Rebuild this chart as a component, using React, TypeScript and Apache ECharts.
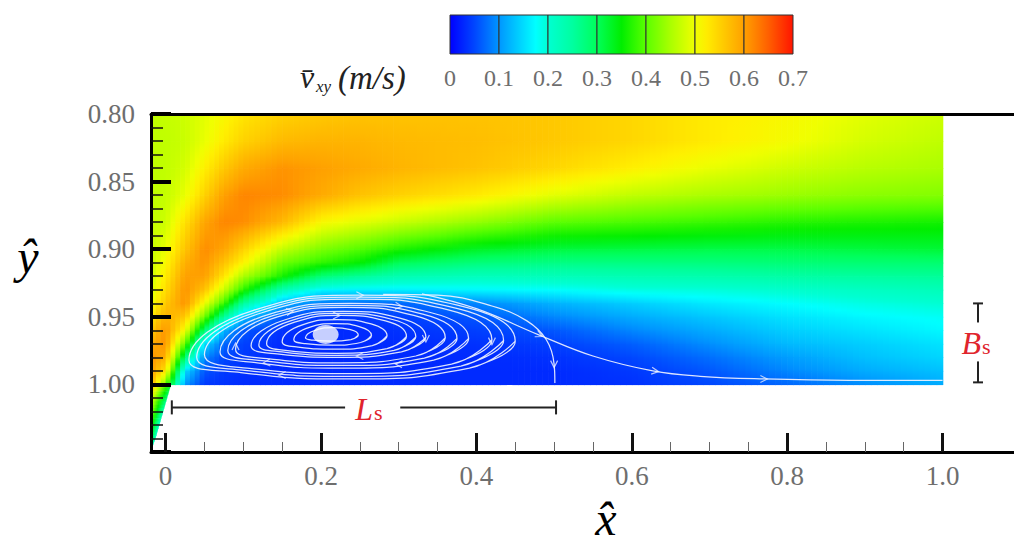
import React, { useEffect, useRef } from "react";
import * as echarts from "echarts";

const SERIF = '"Liberation Serif", "Times New Roman", serif';

// ---------- axes ----------
const X_MIN = -0.0188;
const X_MAX = 1.0919;
const Y_MIN = 0.8;
const Y_MAX = 1.05;
const xMajor = [0, 0.2, 0.4, 0.6, 0.8, 1.0];
const xMinor = [0.05, 0.1, 0.15, 0.25, 0.3, 0.35, 0.45, 0.5, 0.55, 0.65, 0.7, 0.75, 0.85, 0.9, 0.95];

// ---------- colour map ----------
const cmapValues = [0, 0.05, 0.1, 0.15, 0.175, 0.2, 0.25, 0.3, 0.35, 0.4, 0.45, 0.5, 0.52, 0.56, 0.6, 0.65, 0.7];
const cmapColors = [
  [0, 0, 255], [0, 70, 255], [0, 150, 255], [0, 220, 255], [0, 255, 255], [0, 255, 210],
  [0, 255, 160], [0, 255, 90], [0, 238, 0], [90, 255, 0], [170, 255, 0], [240, 255, 0],
  [255, 240, 0], [255, 200, 0], [255, 160, 0], [255, 95, 0], [255, 20, 0],
];
const colorbarLevels = [0, 0.1, 0.2, 0.3, 0.4, 0.5, 0.6, 0.7];

// ---------- velocity field (nodes) ----------
const xNodes = [X_MIN, 0, 0.025, 0.05, 0.075, 0.1, 0.15, 0.2, 0.25, 0.3, 0.4, 0.5, 0.6, 0.7, 0.8, 0.9, 1.0];
const yNodes = [0.8, 0.82, 0.84, 0.86, 0.88, 0.9, 0.91, 0.92, 0.93, 0.94, 0.95, 0.96, 0.97, 0.98, 0.99, 1.0];
const v080 = [0.465, 0.468, 0.475, 0.49, 0.51, 0.53, 0.55, 0.56, 0.565, 0.565, 0.565, 0.56, 0.545, 0.525, 0.51, 0.49, 0.475];
const v082 = [0.465, 0.466, 0.472, 0.495, 0.525, 0.55, 0.575, 0.58, 0.58, 0.575, 0.57, 0.56, 0.545, 0.525, 0.505, 0.48, 0.465];
const v084 = [0.465, 0.466, 0.48, 0.52, 0.56, 0.59, 0.61, 0.6, 0.59, 0.58, 0.565, 0.545, 0.52, 0.495, 0.475, 0.46, 0.45];
const v086 = [0.465, 0.468, 0.495, 0.55, 0.6, 0.62, 0.615, 0.59, 0.565, 0.55, 0.525, 0.49, 0.465, 0.45, 0.44, 0.43, 0.425];
const v088 = [0.468, 0.475, 0.535, 0.595, 0.62, 0.615, 0.575, 0.51, 0.49, 0.47, 0.435, 0.4, 0.39, 0.38, 0.37, 0.365, 0.36];
const v090 = [0.47, 0.495, 0.565, 0.615, 0.595, 0.55, 0.465, 0.42, 0.395, 0.365, 0.33, 0.315, 0.313, 0.31, 0.31, 0.315, 0.32];
const v091 = [0.472, 0.51, 0.585, 0.61, 0.565, 0.515, 0.41, 0.375, 0.35, 0.3, 0.277, 0.27, 0.272, 0.275, 0.28, 0.283, 0.285];
const v092 = [0.475, 0.525, 0.6, 0.6, 0.53, 0.45, 0.36, 0.28, 0.255, 0.232, 0.221, 0.224, 0.231, 0.237, 0.245, 0.25, 0.255];
const v093 = [0.485, 0.54, 0.61, 0.565, 0.47, 0.37, 0.23, 0.17, 0.165, 0.165, 0.17, 0.175, 0.19, 0.195, 0.205, 0.215, 0.225];
const v094 = [0.5, 0.56, 0.61, 0.5, 0.38, 0.25, 0.12, 0.08, 0.07, 0.07, 0.09, 0.12, 0.14, 0.16, 0.175, 0.19, 0.2];
const v095 = [0.53, 0.585, 0.56, 0.41, 0.25, 0.13, 0.06, 0.04, 0.04, 0.045, 0.06, 0.09, 0.115, 0.135, 0.155, 0.17, 0.18];
const v096 = [0.56, 0.61, 0.5, 0.28, 0.12, 0.06, 0.035, 0.03, 0.03, 0.035, 0.045, 0.06, 0.09, 0.115, 0.14, 0.155, 0.17];
const v097 = [0.59, 0.61, 0.4, 0.15, 0.07, 0.045, 0.03, 0.03, 0.03, 0.03, 0.035, 0.045, 0.065, 0.095, 0.125, 0.14, 0.155];
const v098 = [0.61, 0.585, 0.28, 0.09, 0.05, 0.04, 0.03, 0.03, 0.03, 0.03, 0.03, 0.035, 0.05, 0.075, 0.105, 0.13, 0.145];
const v099 = [0.6, 0.53, 0.15, 0.06, 0.04, 0.035, 0.03, 0.03, 0.03, 0.03, 0.03, 0.03, 0.04, 0.06, 0.09, 0.115, 0.13];
const v100 = [0.58, 0.4, 0.1, 0.04, 0.035, 0.03, 0.03, 0.03, 0.03, 0.03, 0.03, 0.03, 0.035, 0.05, 0.07, 0.095, 0.115];
const fieldRows = [v080, v082, v084, v086, v088, v090, v091, v092, v093, v094, v095, v096, v097, v098, v099, v100];

// wall-jet sliver below y = 1.00
const wedgeY = [1.0, 1.01, 1.02, 1.03, 1.04, 1.049];
const wedgeEdgeX = [0.007, 0.002, -0.003, -0.008, -0.013, -0.0188];
const wedgeLeftV = [0.58, 0.5, 0.44, 0.38, 0.33, 0.3];
const wedgeRightV = [0.33, 0.27, 0.23, 0.21, 0.2, 0.2];

// ---------- streamlines ----------
const loop9 = [[0.45, 0.968], [0.391, 0.988], [0.24, 0.996], [0.093, 0.991], [0.03, 0.982], [0.114, 0.945], [0.25, 0.934], [0.387, 0.943]];
const loop8b = [[0.435, 0.9675], [0.38, 0.9865], [0.238, 0.994], [0.099, 0.9895], [0.04, 0.98], [0.119, 0.946], [0.247, 0.9355], [0.376, 0.944]];
const loop8 = [[0.42, 0.967], [0.368, 0.985], [0.235, 0.992], [0.105, 0.988], [0.05, 0.978], [0.124, 0.947], [0.244, 0.937], [0.365, 0.945]];
const loop7 = [[0.39, 0.966], [0.345, 0.982], [0.23, 0.988], [0.118, 0.984], [0.07, 0.976], [0.134, 0.948], [0.238, 0.94], [0.342, 0.947]];
const loop6b = [[0.375, 0.966], [0.333, 0.9805], [0.2275, 0.986], [0.124, 0.9825], [0.08, 0.975], [0.139, 0.949], [0.235, 0.9415], [0.331, 0.948]];
const loop6 = [[0.36, 0.9655], [0.322, 0.979], [0.225, 0.984], [0.1305, 0.981], [0.09, 0.974], [0.144, 0.95], [0.232, 0.943], [0.3195, 0.949]];
const loop5 = [[0.335, 0.965], [0.3035, 0.976], [0.2225, 0.98], [0.1435, 0.9775], [0.11, 0.9715], [0.155, 0.952], [0.228, 0.946], [0.3015, 0.951]];
const loop4b = [[0.322, 0.9648], [0.294, 0.9748], [0.221, 0.9785], [0.15, 0.976], [0.12, 0.9708], [0.1605, 0.953], [0.226, 0.9475], [0.292, 0.952]];
const loop4 = [[0.31, 0.9645], [0.285, 0.9735], [0.22, 0.977], [0.157, 0.975], [0.13, 0.97], [0.166, 0.954], [0.2245, 0.949], [0.283, 0.953]];
const loop3 = [[0.285, 0.964], [0.266, 0.9713], [0.2175, 0.974], [0.1705, 0.9724], [0.15, 0.9685], [0.177, 0.9558], [0.221, 0.952], [0.2645, 0.9553]];
const loop2 = [[0.265, 0.9638], [0.251, 0.969], [0.215, 0.971], [0.18, 0.9698], [0.165, 0.967], [0.185, 0.9578], [0.2175, 0.955], [0.25, 0.9574]];
const loop1 = [[0.248, 0.9635], [0.2385, 0.9668], [0.214, 0.968], [0.19, 0.9673], [0.18, 0.9655], [0.1936, 0.9598], [0.2157, 0.958], [0.238, 0.9595]];
const loops = [loop1, loop2, loop3, loop4, loop4b, loop5, loop6, loop6b, loop7, loop8, loop8b, loop9];
const stream1 = [[0.28, 0.9335], [0.35, 0.934], [0.42, 0.942], [0.465, 0.953], [0.49, 0.967], [0.5, 0.985], [0.501, 0.999]];
const stream2 = [[0.33, 0.933], [0.4, 0.944], [0.481, 0.9635], [0.55, 0.979], [0.627, 0.99], [0.688, 0.994], [0.77, 0.996], [0.88, 0.997], [1.0, 0.997]];
// arrow heads: x, y, screen angle (deg)
const arrowHeads = [
  [0.25, 0.934, 0], [0.15, 0.993, 180], [0.3, 0.942, -6], [0.3, 0.985, 176], [0.25, 0.979, 180],
  [0.335, 0.966, -90], [0.42, 0.968, -90], [0.09, 0.972, 90], [0.22, 0.949, 0], [0.16, 0.946, 10],
  [0.5, 0.985, -90], [0.481, 0.9635, -25], [0.63, 0.9902, -8], [0.77, 0.996, 0], [0.13, 0.984, 185],
];
const vortexCore = [[0.206, 0.963]];

// ---------- annotations ----------
const annotSegments = [
  [0.008, 1.017, 0.231, 1.017], [0.302, 1.017, 0.5025, 1.017],
  [0.008, 1.0118, 0.008, 1.0222], [0.5025, 1.0118, 0.5025, 1.0222],
  [1.0456, 0.9401, 1.0456, 0.9542], [1.0456, 0.983, 1.0456, 0.9985],
  [1.0392, 0.9401, 1.052, 0.9401], [1.0392, 0.9985, 1.052, 0.9985],
];
const lsLabel = [0.2656, 1.017];
const bsLabel = [1.0456, 0.969];

function cmap(v: number): string {
  const n = cmapValues.length;
  if (v <= cmapValues[0]) return `rgb(${cmapColors[0].join(",")})`;
  if (v >= cmapValues[n - 1]) return `rgb(${cmapColors[n - 1].join(",")})`;
  let i = 0;
  while (i < n - 2 && v > cmapValues[i + 1]) i++;
  const t = (v - cmapValues[i]) / (cmapValues[i + 1] - cmapValues[i]);
  const a = cmapColors[i];
  const b = cmapColors[i + 1];
  const c = a.map((q, k) => Math.round(q + (b[k] - q) * t));
  return `rgb(${c.join(",")})`;
}

function gradStops(v0: number, v1: number) {
  const offs = [0, 0.25, 0.5, 0.75, 1];
  return offs.map((o) => ({ offset: o, color: cmap(v0 + (v1 - v0) * o) }));
}

export default function App() {
  const ref = useRef<HTMLDivElement>(null);
  useEffect(() => {
    if (!ref.current) return;
    const chart = echarts.init(ref.current, undefined, { renderer: "svg" });

    const cells: number[][] = [];
    for (let j = 0; j < yNodes.length - 1; j++) {
      for (let i = 0; i < xNodes.length - 1; i++) {
        cells.push([
          xNodes[i], yNodes[j], xNodes[i + 1], yNodes[j + 1],
          fieldRows[j][i], fieldRows[j][i + 1], fieldRows[j + 1][i], fieldRows[j + 1][i + 1],
        ]);
      }
    }
    const wedgeStrips: number[][] = [];
    for (let k = 0; k < wedgeY.length - 1; k++) {
      wedgeStrips.push([
        wedgeY[k], wedgeY[k + 1], wedgeEdgeX[k], wedgeEdgeX[k + 1],
        wedgeLeftV[k], wedgeRightV[k], wedgeLeftV[k + 1], wedgeRightV[k + 1],
      ]);
    }
    const cbSegments: number[][] = [];
    for (let k = 0; k < colorbarLevels.length - 1; k++) cbSegments.push([colorbarLevels[k], colorbarLevels[k + 1]]);

    const streamStyle = { color: "rgba(238,242,255,0.92)", width: 1.25 };
    const loopSeries = loops.map((lp) => ({
      type: "line",
      xAxisIndex: 0,
      yAxisIndex: 0,
      data: [...lp, lp[0], lp[1]],
      smooth: 0.5,
      symbol: "none",
      silent: true,
      z: 4,
      lineStyle: streamStyle,
    }));
    const openSeries = [stream1, stream2].map((s) => ({
      type: "line",
      xAxisIndex: 0,
      yAxisIndex: 0,
      data: s,
      smooth: 0.4,
      symbol: "none",
      silent: true,
      z: 4,
      lineStyle: streamStyle,
    }));

    const labelFont = { fontFamily: SERIF, color: "#6e6e6e" };

    chart.setOption({
      animation: false,
      backgroundColor: "#ffffff",
      grid: [
        { left: 151, top: 114, width: 863, height: 338 },
        { left: 450, top: 15, width: 343, height: 39 },
      ],
      xAxis: [
        {
          gridIndex: 0, type: "value", min: X_MIN, max: X_MAX, position: "bottom", z: 10,
          axisLine: { show: true, onZero: false, lineStyle: { color: "#000", width: 3 } },
          axisTick: { show: true, inside: true, length: 19, customValues: xMajor, lineStyle: { color: "#111", width: 3 } },
          axisLabel: {
            show: true, customValues: xMajor, margin: 10, fontSize: 27, ...labelFont,
            formatter: (v: number) => (v === 0 ? "0" : v.toFixed(1)),
          },
          splitLine: { show: false },
        },
        {
          gridIndex: 0, type: "value", min: X_MIN, max: X_MAX, position: "bottom", z: 10,
          axisLine: { show: false },
          axisTick: { show: true, inside: true, length: 10, customValues: xMinor, lineStyle: { color: "#666", width: 1 } },
          axisLabel: { show: false },
          splitLine: { show: false },
        },
        {
          gridIndex: 0, type: "value", min: X_MIN, max: X_MAX, position: "top", z: 10,
          axisLine: { show: true, onZero: false, lineStyle: { color: "#000", width: 3 } },
          axisTick: { show: false },
          axisLabel: { show: false },
          splitLine: { show: false },
        },
        {
          gridIndex: 1, type: "value", min: 0, max: 0.7, interval: 0.1, position: "bottom",
          axisLine: { show: false },
          axisTick: { show: false },
          axisLabel: { margin: 12, fontSize: 24, ...labelFont, formatter: (v: number) => (v === 0 ? "0" : v.toFixed(1)) },
          splitLine: { show: false },
        },
      ],
      yAxis: [
        {
          gridIndex: 0, type: "value", inverse: true, min: Y_MIN, max: Y_MAX, interval: 0.05, z: 10,
          axisLine: { show: true, onZero: false, lineStyle: { color: "#000", width: 3 } },
          axisTick: { show: true, inside: true, length: 20, lineStyle: { color: "#000", width: 4 } },
          minorTick: { show: true, splitNumber: 5, length: 12, lineStyle: { color: "#111", width: 1.5 } },
          axisLabel: {
            margin: 16, fontSize: 27, ...labelFont,
            formatter: (v: number) => (v > 1.001 ? "" : v.toFixed(2)),
          },
          splitLine: { show: false },
        },
        { gridIndex: 1, type: "value", min: 0, max: 1, show: false },
      ],
      series: [
        {
          type: "custom",
          xAxisIndex: 0,
          yAxisIndex: 0,
          silent: true,
          z: 2,
          data: cells,
          encode: { x: [0, 2], y: [1, 3] },
          renderItem: (_p: any, api: any) => {
            const x0 = api.value(0), y0 = api.value(1), x1 = api.value(2), y1 = api.value(3);
            const v00 = api.value(4), v10 = api.value(5), v01 = api.value(6), v11 = api.value(7);
            const p0 = api.coord([x0, y0]);
            const p1 = api.coord([x1, y1]);
            const w = p1[0] - p0[0];
            const h = p1[1] - p0[1];
            const n = Math.max(1, Math.ceil(w / 6));
            const children: any[] = [];
            for (let k = 0; k < n; k++) {
              const t = (k + 0.5) / n;
              const vt = v00 + (v10 - v00) * t;
              const vb = v01 + (v11 - v01) * t;
              children.push({
                type: "rect",
                shape: { x: p0[0] + (w * k) / n, y: p0[1], width: w / n + 0.7, height: h + 0.7 },
                style: { fill: new echarts.graphic.LinearGradient(0, 0, 0, 1, gradStops(vt, vb)) },
              });
            }
            return { type: "group", children, silent: true };
          },
        },
        {
          type: "custom",
          xAxisIndex: 0,
          yAxisIndex: 0,
          silent: true,
          z: 2,
          data: wedgeStrips,
          encode: { x: [2, 3], y: [0, 1] },
          renderItem: (_p: any, api: any) => {
            const yt = api.value(0), yb = api.value(1), et = api.value(2), eb = api.value(3);
            const lt = api.value(4), rt = api.value(5), lb = api.value(6), rb = api.value(7);
            const n = 4;
            const children: any[] = [];
            for (let k = 0; k < n; k++) {
              const a = k / n, b = (k + 1) / n, m = (k + 0.5) / n;
              const ya = yt + (yb - yt) * a, yb2 = yt + (yb - yt) * b;
              const ea = et + (eb - et) * a, eb2 = et + (eb - et) * b;
              const pts = [
                api.coord([X_MIN, ya]), api.coord([ea, ya]), api.coord([eb2, yb2]), api.coord([X_MIN, yb2]),
              ];
              pts[2] = [pts[2][0], pts[2][1] + 0.6];
              pts[3] = [pts[3][0], pts[3][1] + 0.6];
              children.push({
                type: "polygon",
                shape: { points: pts },
                style: { fill: new echarts.graphic.LinearGradient(0, 0, 1, 0, gradStops(lt + (lb - lt) * m, rt + (rb - rt) * m)) },
              });
            }
            return { type: "group", children, silent: true };
          },
        },
        ...loopSeries,
        ...openSeries,
        {
          type: "scatter",
          xAxisIndex: 0,
          yAxisIndex: 0,
          silent: true,
          z: 5,
          data: vortexCore,
          symbol: "circle",
          symbolSize: [26, 19],
          itemStyle: { color: "rgba(255,255,255,0.97)" },
        },
        {
          type: "scatter",
          xAxisIndex: 0,
          yAxisIndex: 0,
          silent: true,
          z: 5,
          data: arrowHeads,
          symbol: "path://M0,0L10,5L0,10",
          symbolSize: [7, 7],
          symbolRotate: (val: number[]) => val[2],
          itemStyle: { color: "none", borderColor: "rgba(240,243,255,0.95)", borderWidth: 1.2 },
        },
        {
          type: "custom",
          xAxisIndex: 0,
          yAxisIndex: 0,
          silent: true,
          z: 6,
          data: annotSegments,
          encode: { x: [0, 2], y: [1, 3] },
          renderItem: (_p: any, api: any) => {
            const a = api.coord([api.value(0), api.value(1)]);
            const b = api.coord([api.value(2), api.value(3)]);
            return {
              type: "line",
              shape: { x1: a[0], y1: a[1], x2: b[0], y2: b[1] },
              style: { stroke: "#222", lineWidth: 2 },
            };
          },
        },
        {
          type: "custom",
          xAxisIndex: 0,
          yAxisIndex: 0,
          silent: true,
          z: 6,
          data: [[...lsLabel, 0], [...bsLabel, 1]],
          renderItem: (_p: any, api: any) => {
            const p = api.coord([api.value(0), api.value(1)]);
            const isB = api.value(2) === 1;
            const big = isB ? "B" : "L";
            const bigSize = 32;
            const baseY = isB ? p[1] + 11 : p[1] + 12;
            const cx = isB ? p[0] + 3 : p[0] + 1;
            return {
              type: "group",
              children: [
                {
                  type: "text",
                  style: {
                    text: big, x: cx, y: baseY - bigSize * 0.34, align: "right", verticalAlign: "middle",
                    font: `italic ${bigSize}px ${SERIF}`, fill: "#e0242c",
                  },
                },
                {
                  type: "text",
                  style: {
                    text: "s", x: cx + 1, y: baseY - 7, align: "left", verticalAlign: "middle",
                    font: `22px ${SERIF}`, fill: "#e0242c",
                  },
                },
              ],
            };
          },
        },
        {
          type: "custom",
          xAxisIndex: 3,
          yAxisIndex: 1,
          silent: true,
          z: 2,
          data: cbSegments,
          encode: { x: [0, 1] },
          renderItem: (_p: any, api: any) => {
            const a = api.coord([api.value(0), 1]);
            const b = api.coord([api.value(1), 0]);
            return {
              type: "rect",
              shape: { x: a[0], y: a[1], width: b[0] - a[0], height: b[1] - a[1] },
              style: {
                fill: new echarts.graphic.LinearGradient(0, 0, 1, 0, gradStops(api.value(0), api.value(1))),
                stroke: "#333",
                lineWidth: 1,
              },
            };
          },
        },
      ],
      graphic: [
        {
          type: "text", x: 28, y: 256,
          style: { text: "\u0177", align: "center", verticalAlign: "middle", font: `italic 48px ${SERIF}`, fill: "#000" },
        },
        {
          type: "text", x: 606, y: 518,
          style: { text: "x\u0302", align: "center", verticalAlign: "middle", font: `italic 48px ${SERIF}`, fill: "#000" },
        },
        {
          type: "text", x: 300, y: 77,
          style: { text: "v\u0304", align: "left", verticalAlign: "middle", font: `italic 32px ${SERIF}`, fill: "#222" },
        },
        {
          type: "text", x: 316, y: 86,
          style: { text: "xy", align: "left", verticalAlign: "middle", font: `italic 17px ${SERIF}`, fill: "#222" },
        },
        {
          type: "text", x: 338, y: 78,
          style: { text: "(m/s)", align: "left", verticalAlign: "middle", font: `italic 33px ${SERIF}`, fill: "#222" },
        },
      ],
    });
    return () => chart.dispose();
  }, []);
  return (
    <div
      ref={ref}
      style={{ position: "absolute", left: 0, top: 0, width: 1014, height: 545, background: "#fff" }}
    />
  );
}
